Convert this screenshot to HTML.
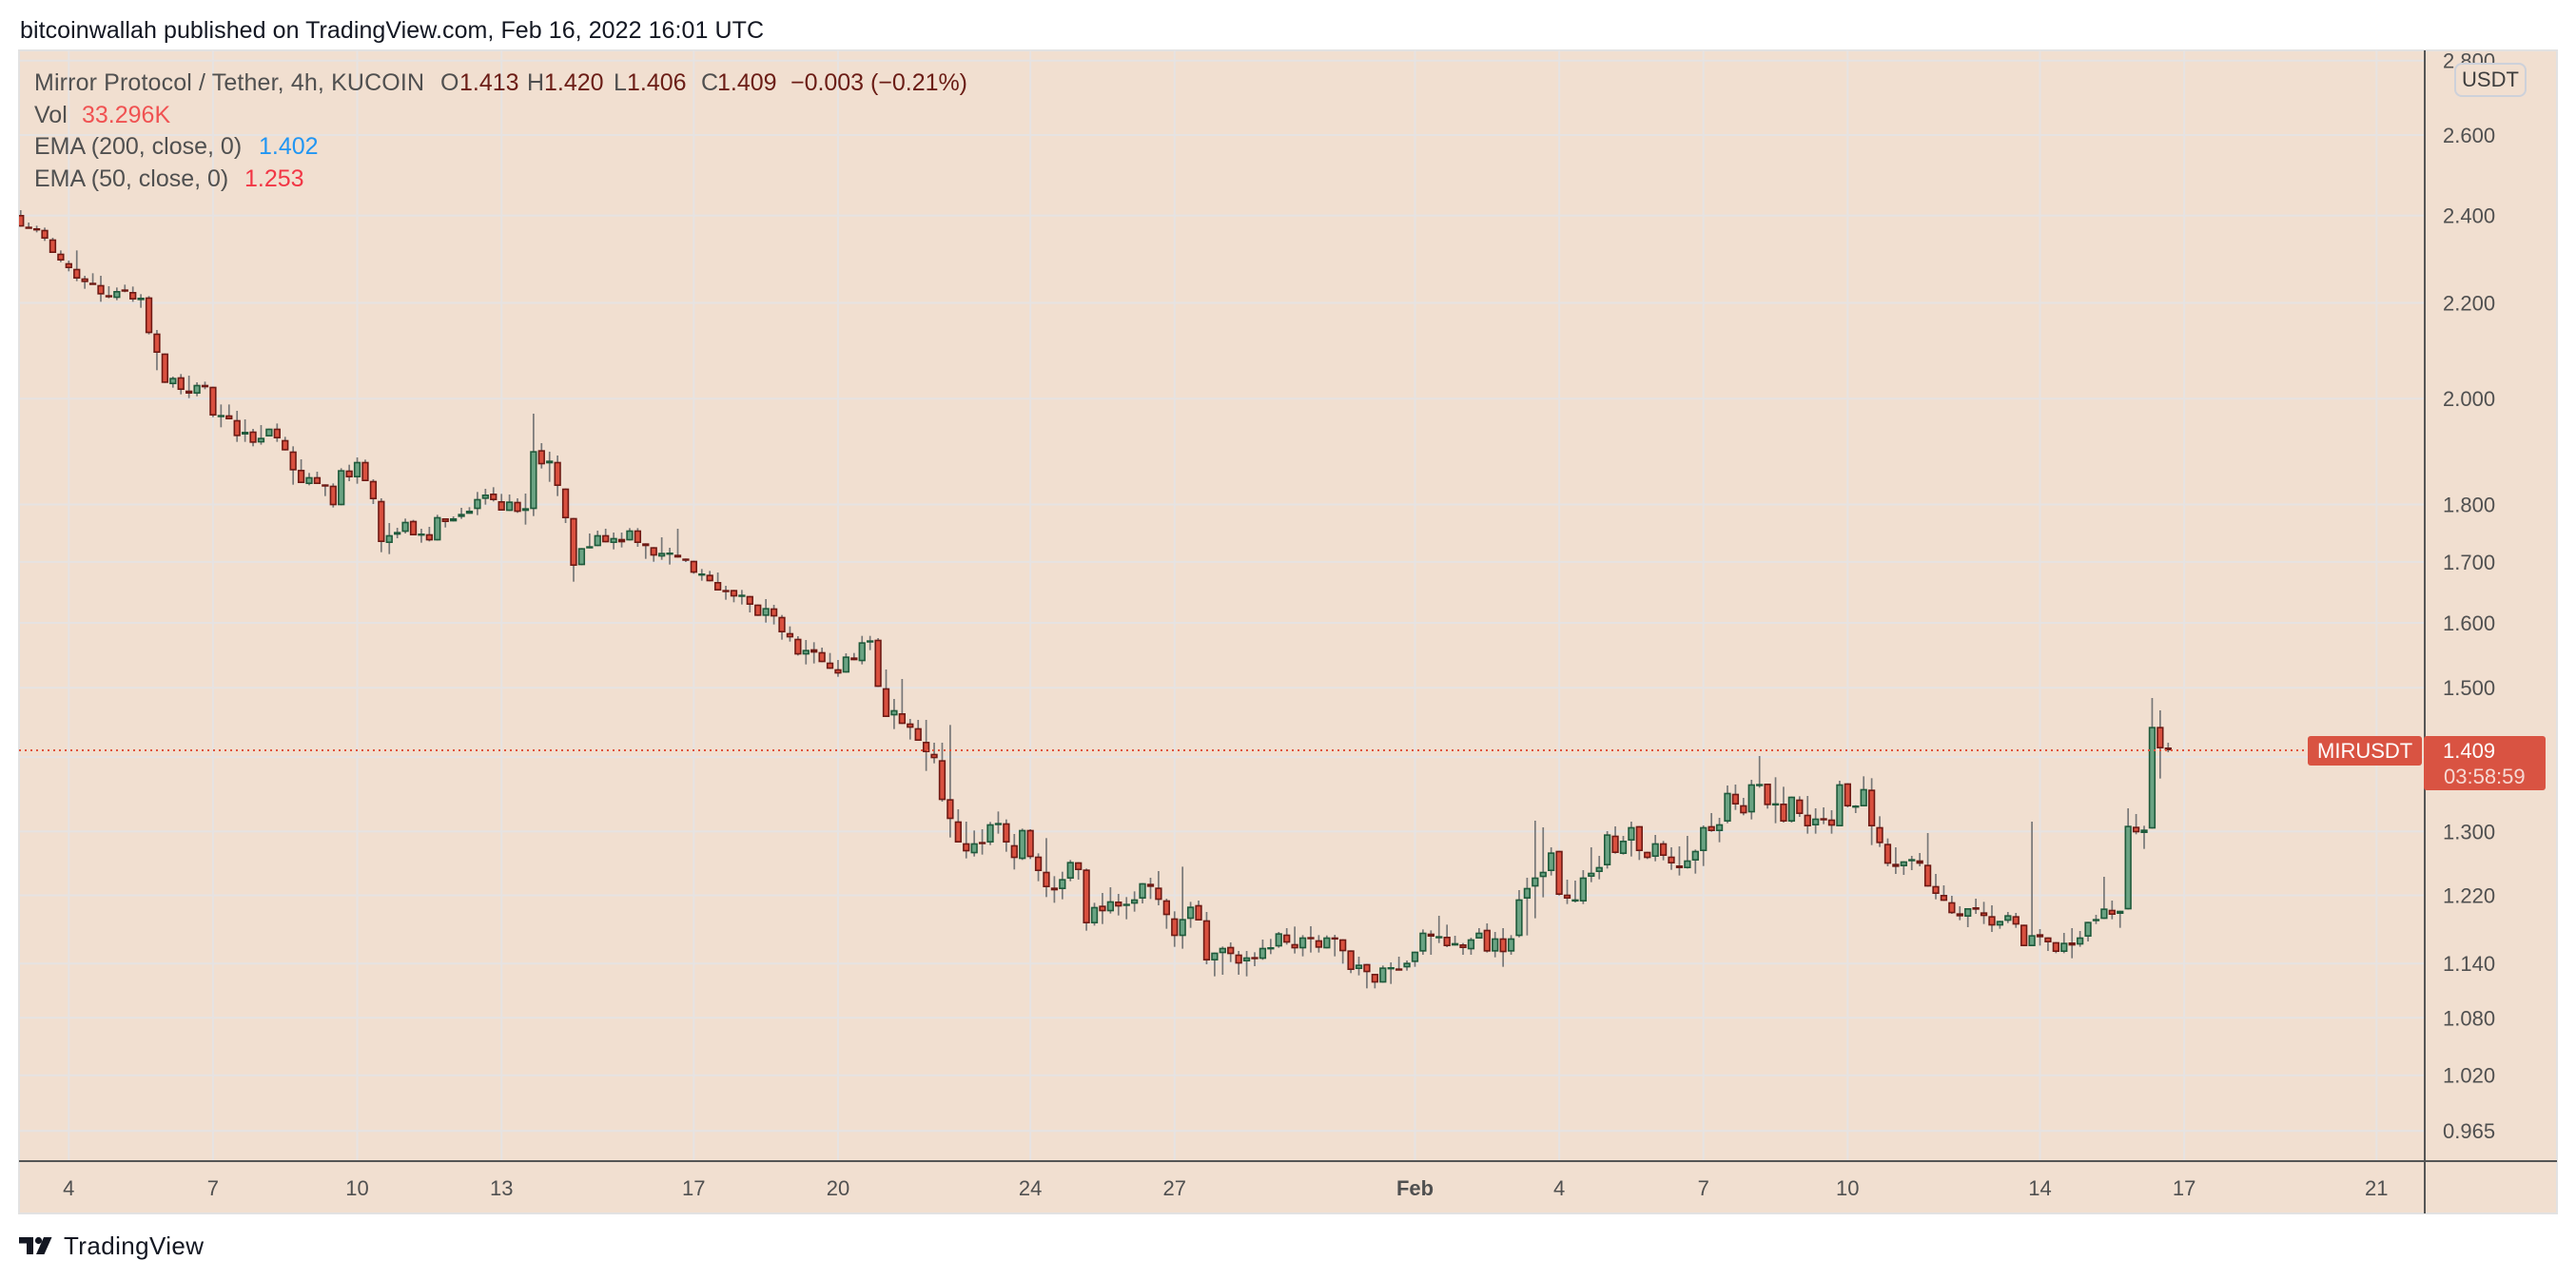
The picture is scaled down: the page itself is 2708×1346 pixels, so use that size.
<!DOCTYPE html>
<html><head><meta charset="utf-8">
<style>
html,body{margin:0;padding:0;background:#fff;}
svg{display:block;}
text{font-family:"Liberation Sans",Arial,sans-serif;}
</style></head>
<body>
<svg id="c" width="2708" height="1346" viewBox="0 0 2708 1346" xmlns="http://www.w3.org/2000/svg">
<defs>
<clipPath id="plot"><rect x="20" y="53" width="2529" height="1168"/></clipPath>
<clipPath id="axis"><rect x="2550" y="54" width="138" height="1166"/></clipPath>
</defs>
<rect width="2708" height="1346" fill="#fff"/>
<text x="21" y="40" font-size="25" fill="#131722" textLength="782">bitcoinwallah published on TradingView.com, Feb 16, 2022 16:01 UTC</text>
<rect x="20" y="53" width="2668" height="1223" fill="#f1dfd0" stroke="#e2e2e2" stroke-width="2"/>

<g stroke="#e6e3e2" stroke-width="2" clip-path="url(#plot)">
<line x1="20" x2="2549" y1="63.7" y2="63.7"/>
<line x1="20" x2="2549" y1="142" y2="142"/>
<line x1="20" x2="2549" y1="226.6" y2="226.6"/>
<line x1="20" x2="2549" y1="318.5" y2="318.5"/>
<line x1="20" x2="2549" y1="419.2" y2="419.2"/>
<line x1="20" x2="2549" y1="530.5" y2="530.5"/>
<line x1="20" x2="2549" y1="590.9" y2="590.9"/>
<line x1="20" x2="2549" y1="655" y2="655"/>
<line x1="20" x2="2549" y1="723.2" y2="723.2"/>
<line x1="20" x2="2549" y1="796.1" y2="796.1"/>
<line x1="20" x2="2549" y1="874.4" y2="874.4"/>
<line x1="20" x2="2549" y1="941.5" y2="941.5"/>
<line x1="20" x2="2549" y1="1013.2" y2="1013.2"/>
<line x1="20" x2="2549" y1="1070.3" y2="1070.3"/>
<line x1="20" x2="2549" y1="1130.7" y2="1130.7"/>
<line x1="20" x2="2549" y1="1189.2" y2="1189.2"/>
<line y1="53" y2="1221" x1="72.3" x2="72.3"/>
<line y1="53" y2="1221" x1="223.9" x2="223.9"/>
<line y1="53" y2="1221" x1="375.5" x2="375.5"/>
<line y1="53" y2="1221" x1="527.2" x2="527.2"/>
<line y1="53" y2="1221" x1="729.3" x2="729.3"/>
<line y1="53" y2="1221" x1="881" x2="881"/>
<line y1="53" y2="1221" x1="1083.1" x2="1083.1"/>
<line y1="53" y2="1221" x1="1234.8" x2="1234.8"/>
<line y1="53" y2="1221" x1="1487.5" x2="1487.5"/>
<line y1="53" y2="1221" x1="1639.1" x2="1639.1"/>
<line y1="53" y2="1221" x1="1790.7" x2="1790.7"/>
<line y1="53" y2="1221" x1="1942.3" x2="1942.3"/>
<line y1="53" y2="1221" x1="2144.5" x2="2144.5"/>
<line y1="53" y2="1221" x1="2296.1" x2="2296.1"/>
<line y1="53" y2="1221" x1="2498.3" x2="2498.3"/>
</g>

<g id="candles" clip-path="url(#plot)"></g>

<line x1="20" x2="2426" y1="789" y2="789" stroke="#e0533d" stroke-width="2" stroke-dasharray="2 4" clip-path="url(#plot)"/>

<!-- legend -->
<g font-size="25">
<text x="36" y="95" fill="#505050" textLength="410">Mirror Protocol / Tether, 4h, KUCOIN</text>
<text x="463" y="95" fill="#505050">O</text><text x="483" y="95" fill="#6b1d16">1.413</text>
<text x="554" y="95" fill="#505050">H</text><text x="572" y="95" fill="#6b1d16">1.420</text>
<text x="645" y="95" fill="#505050">L</text><text x="659" y="95" fill="#6b1d16">1.406</text>
<text x="737" y="95" fill="#505050">C</text><text x="754" y="95" fill="#6b1d16">1.409</text>
<text x="831" y="95" fill="#6b1d16" textLength="186">−0.003 (−0.21%)</text>
<text x="36" y="129" fill="#505050">Vol</text><text x="86" y="129" fill="#f05252">33.296K</text>
<text x="36" y="162" fill="#505050">EMA (200, close, 0)</text><text x="272" y="162" fill="#2196f3">1.402</text>
<text x="36" y="196" fill="#505050">EMA (50, close, 0)</text><text x="257" y="196" fill="#f23645">1.253</text>
</g>

<!-- axes -->
<line x1="2549" x2="2549" y1="53" y2="1276" stroke="#555" stroke-width="2"/>
<line x1="20" x2="2688" y1="1221" y2="1221" stroke="#555" stroke-width="2"/>

<g font-size="22" fill="#505050" clip-path="url(#axis)">
<text x="2568" y="71.7">2.800</text>
<text x="2568" y="150">2.600</text>
<text x="2568" y="234.6">2.400</text>
<text x="2568" y="326.5">2.200</text>
<text x="2568" y="427.2">2.000</text>
<text x="2568" y="538.5">1.800</text>
<text x="2568" y="598.9">1.700</text>
<text x="2568" y="663">1.600</text>
<text x="2568" y="731.2">1.500</text>
<text x="2568" y="882.4">1.300</text>
<text x="2568" y="949.5">1.220</text>
<text x="2568" y="1021.2">1.140</text>
<text x="2568" y="1078.3">1.080</text>
<text x="2568" y="1138.7">1.020</text>
<text x="2568" y="1197.2">0.965</text>
</g>

<rect x="2581" y="67" width="74" height="34" rx="7" fill="#f1dfd0" stroke="#cdd1da" stroke-width="2"/>
<text x="2618" y="91" font-size="22" fill="#3d3d3d" text-anchor="middle">USDT</text>

<g font-size="22" fill="#505050" text-anchor="middle">
<text x="72.3" y="1257">4</text>
<text x="223.9" y="1257">7</text>
<text x="375.5" y="1257">10</text>
<text x="527.2" y="1257">13</text>
<text x="729.3" y="1257">17</text>
<text x="881" y="1257">20</text>
<text x="1083.1" y="1257">24</text>
<text x="1234.8" y="1257">27</text>
<text x="1487.5" y="1257" font-weight="bold">Feb</text>
<text x="1639.1" y="1257">4</text>
<text x="1790.7" y="1257">7</text>
<text x="1942.3" y="1257">10</text>
<text x="2144.5" y="1257">14</text>
<text x="2296.1" y="1257">17</text>
<text x="2498.3" y="1257">21</text>
</g>

<!-- last price labels -->
<rect x="2426" y="774" width="120" height="31" rx="3" fill="#d95342"/>
<text x="2436" y="797" font-size="22" fill="#fff">MIRUSDT</text>
<rect x="2548" y="774" width="128" height="57" rx="3" fill="#d95342"/>
<text x="2568" y="797" font-size="22" fill="#fff">1.409</text>
<text x="2569" y="824" font-size="22" fill="#f6d9d3">03:58:59</text>

<!-- logo -->
<g fill="#131722">
<rect x="20" y="1301" width="15" height="6.5"/>
<rect x="28" y="1301" width="7" height="18"/>
<circle cx="40.5" cy="1304.5" r="3.6"/>
<polygon points="46,1301 54.5,1301 46.5,1319 38,1319"/>
</g>
<text x="67" y="1319" font-size="26" fill="#131722" textLength="147">TradingView</text>
</svg>
<script>
(function(){
var segs=[
[0,200,"r,78,115,63,115;r,115,121,102,121;r,120,125,112,133;r,125,153,118,160;r,155,198,150,198;r,200,222,190,227;r,230,246,222,256;r,248,279,190,287;r,278,290,270,311;r,292,298,262,298;r,299,329,270,352;r,331,337,303,341;g,318,340,307,347;r,313,317,298,322;r,321,345,304,352;g,339,347,328,371;r,338,451,334,455;r,452,513,441,568;r,515,608,515,608;g,592,612,588,623;r,590,630,580,644;r,632,642,585,656;g,614,642,606,650;r,614,622,604,628;r,620,711,620,716;g,709,715,676,748;r,710,723,676,723;r,725,776,696,794;g,762,771,723,794;r,761,797,753,808;g,781,796,741,803;g,752,777,752,777;r,752,783,736,794;r,788,821,778,821;r,824,884,808,929;r,882,924,849,924;g,905,927,892,931;r,905,927,888,927;r,928,934,928,965;r,932,994,925,1001;g,883,994,877,994;r,884,906,866,918;g,857,906,843,926;r,857,918,850,918;r,917,975,912,990;r,980,1110,972,1142;g,1088,1113,1050,1148;g,1078,1087,1065,1098;g,1046,1078,1036,1083;r,1043,1089,1040,1089;g,1083,1088,1068,1112;r,1085,1105,1062,1108;g,1031,1105,1024,1105;r,1035,1047,1035,1064;g,1035,1045,1029,1045;g,1021,1031,1002,1037;g,1011,1021,1000,1021;g,974,1006,952,1025;g,960,974,942,992;r,957,978,937,982;r,981,1011,958,1011"],
[61,420,"g,322,352,300,352;r,323,355,312,358;g,343,352,297,395;g,163,346,45,368;r,160,205,138,218;g,193,202,165,260;r,197,273,177,305;r,281,375,281,390;r,374,525,374,575;g,469,523,469,523;g,463,470,423,470;g,428,463,414,463;r,428,451,408,451;g,437,453,420,473;r,440,451,420,467;g,413,445,406,445;r,413,453,406,465;r,454,463,454,503;r,466,493,466,512;g,484,496,435,506;g,483,488,468,521;r,490,499,408,499;r,502,509,502,513;r,509,547,509,550;g,549,554,535,572;r,553,574,541,574;r,576,603,546,603;r,601,605,588,632;r,601,622,601,640;g,616,622,601,647;r,620,648,620,672;r,647,683,647,683;g,658,683,630,704;r,659,685,648,710;r,686,735,680,758;r,737,751,716,764;r,755,805,747,808;g,790,805,759,836;r,788,799,766,833;r,797,829,783,829;r,830,850,800,850;r,851,865,822,875;g,811,862,801,862;r,814,823,800,823;g,766,826,746,836;g,760,765,746,791;r,758,907,753,907;r,911,1002,852,1002;g,980,997,945,1040;r,990,1024,882,1024;r,1022,1036,1008,1073;r,1037,1077,1011,1077;r,1080,1113,1011,1172;r,1118,1132,1083,1148"],
[115,740,"r,178,304,123,309;r,301,364,67,422;r,371,438,333,438;r,440,466,372,488;g,440,472,400,482;r,436,442,396,476;g,380,438,373,446;g,376,382,340,410;r,377,438,365,467;r,446,487,411,523;g,398,490,394,493;r,398,484,396,490;r,482,528,472,560;r,530,579,424,610;r,580,589,544,628;g,553,585,530,617;g,499,552,493,560;r,500,525,500,555;r,523,693,520,716;g,641,693,628,700;r,637,655,597,695;g,623,655,579,662;r,624,640,600,668;g,631,637,610,680;g,617,631,592,656;g,566,615,566,630;r,568,578,549,616;r,580,619,528,636;r,620,667,615,710;r,677,733,655,767;g,679,733,514,773;g,640,679,625,707;r,635,684,621,684;r,683,810,657,822;g,785,810,785,860;g,770,787,766,855;r,767,790,753,815;r,791,820,780,855;g,800,813,780,860;r,799,805,784,828;g,770,805,744,808;g,768,775,742,790;g,724,766,720,770;r,728,754,708,760;r,758,772,703,788;g,737,772,730,797;r,736,742,702,785;r,746,770,730,785;g,737,772,731,772;r,737,743,729,797;r,743,781,743,820;r,778,840,778,850;g,823,837,798,857;r,821,847,821,898;r,852,880,852,898;g,832,880,826,880;g,831,835,816,884;r,835,839,798,839;g,817,832,810,842"],
[174,740,"g,782,815,782,830;g,722,782,712,792;r,725,735,715,792;g,733,739,669,755;r,735,765,697,768;g,755,763,732,763;r,759,771,755,792;g,743,775,738,792;g,722,741,708,741;r,713,782,693,785;g,740,782,720,800;r,740,784,708,830;g,740,782,730,792;g,617,733,588,737;g,581,615,549,731;g,548,577,369,677;g,530,547,390,611;g,469,528,453,542;r,464,603,464,605;r,602,615,555,632;g,617,622,558,627;g,548,624,525,632;g,533,546,453,563;g,515,531,480,554;g,412,510,402,520;r,416,471,387,473;g,432,474,417,476;g,389,432,372,482;r,386,465,386,493;r,467,487,467,490;g,440,483,414,497;r,440,480,433,494;r,482,504,453,524;r,510,519,450,542;g,494,519,417,520;g,464,495,460,536;g,389,465,384,512;r,386,402,345,404;g,380,402,360,437;g,281,372,258,377;r,284,318,255,335;r,320,346,297,352;g,254,343,240,365;g,253,258,165,265;r,252,320,252,331;g,314,321,232,377;r,315,372,262,375;g,293,372,293,375;r,302,348,292,357;r,350,387,291,410;g,362,384,330,410;r,361,365,327,380;r,365,385,336,410;g,254,387,243,387;r,251,324,251,327;g,321,328,320,345;g,269,324,229,324;r,271,387,235,446;r,389,440,355,452"],
[233,715,"r,517,580,500,588;r,580,590,528,612;g,572,588,572,615;g,565,572,555,600;r,569,580,546,588;r,583,652,483,652;r,650,675,612,692;r,678,697,648,697;r,701,736,681,738;r,736,746,714,758;g,720,747,720,780;r,717,725,690,738;r,733,745,700,770;r,745,775,711,795;g,760,775,760,785;g,742,760,732,767;r,745,772,735,782;r,772,840,772,840;g,805,840,447,840;r,802,812,786,838;r,812,828,812,855;r,827,858,827,862;g,829,858,798,862;r,828,838,783,878;g,812,835,792,842;g,763,810,763,825;g,754,760,741,770;g,721,754,621,754;r,725,741,696,755;g,728,738,728,782;g,460,724,405,724;r,463,481,423,487;g,472,483,460,533;g,148,469,57,469;r,148,216,96,311;r,213,222,198,228"]
];
var wicks='',bodies='';
segs.forEach(function(sg){
  var s=sg[0],y0=sg[1];
  sg[2].split(';').forEach(function(c,k){
    var p=c.split(','),i=s+k,x=21.76+8.4236*i;
    var t=y0+(+p[1])/3,b=y0+(+p[2])/3,h=y0+(+p[3])/3,l=y0+(+p[4])/3;
    if(h>t)h=t; if(l<b)l=b;
    var red=p[0]=='r';
    var bc=red?'#6e1a14':'#1f5a3b', fc=red?'#d9503f':'#6aa383';
    wicks+='<line x1="'+x.toFixed(2)+'" x2="'+x.toFixed(2)+'" y1="'+h.toFixed(2)+'" y2="'+l.toFixed(2)+'" stroke="#777" stroke-width="1.7"/>';
    if(b-t<3.8){
      var hh=Math.max(b-t,2.4);
      bodies+='<rect x="'+(x-3.65).toFixed(2)+'" y="'+t.toFixed(2)+'" width="7.3" height="'+hh.toFixed(2)+'" fill="'+bc+'"/>';
    } else {
      bodies+='<rect x="'+(x-2.85).toFixed(2)+'" y="'+(t+0.8).toFixed(2)+'" width="5.7" height="'+(b-t-1.6).toFixed(2)+'" fill="'+fc+'" stroke="'+bc+'" stroke-width="1.6"/>';
    }
  });
});
document.getElementById('candles').innerHTML=wicks+bodies;
})();
</script>
</body></html>
